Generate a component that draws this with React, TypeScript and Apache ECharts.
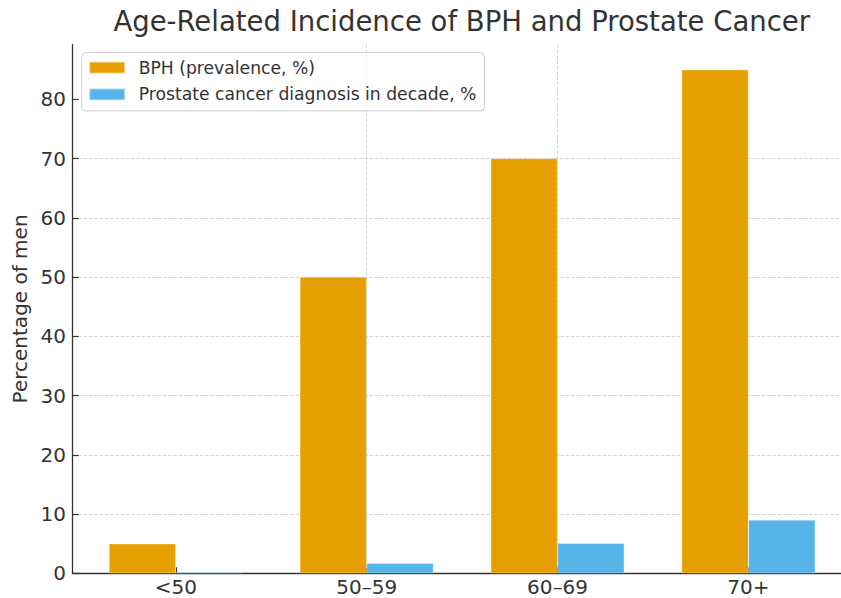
import React, { useEffect, useRef } from "react";
import * as echarts from "echarts";

const categories = ["<50", "50–59", "60–69", "70+"];
const bphValues = [5, 50, 70, 85];
const cancerValues = [0.2, 1.7, 5.1, 9];
const yTicks = [0, 10, 20, 30, 40, 50, 60, 70, 80];
const seriesNames = ["BPH (prevalence, %)", "Prostate cancer diagnosis in decade, %"];

const FONT = "DejaVu Sans";
const TEXT = "#333333";

export default function App() {
  const ref = useRef<HTMLDivElement>(null);
  useEffect(() => {
    if (!ref.current) return;
    const chart = echarts.init(ref.current, undefined, { renderer: "svg" });
    const xIdx = categories.map((_, i) => i);
    chart.setOption({
      animation: false,
      backgroundColor: "#ffffff",
      textStyle: { fontFamily: FONT },
      title: {
        text: "Age-Related Incidence of BPH and Prostate Cancer",
        left: 461.7,
        top: 7,
        padding: 0,
        textAlign: "center",
        textStyle: { fontFamily: FONT, fontSize: 27.5, fontWeight: "normal", color: TEXT },
      },
      legend: {
        orient: "vertical",
        left: 81.7,
        top: 52.7,
        padding: [6.5, 8, 8, 6.6],
        itemGap: 9.7,
        itemWidth: 35.7,
        itemHeight: 11.7,
        icon: "rect",
        backgroundColor: "rgba(255,255,255,0.8)",
        borderColor: "#cccccc",
        borderWidth: 1,
        borderRadius: 4,
        textStyle: { fontFamily: FONT, fontSize: 17.2, color: TEXT, padding: [0, 0, 0, 8.7], lineHeight: 17 },
        data: seriesNames,
      },
      grid: { left: 72.7, right: 0.5, top: 44.5, bottom: 598 - 573.3, containLabel: false },
      xAxis: {
        type: "value",
        min: -0.54,
        max: 3.54,
        axisLine: { show: true, onZero: false, lineStyle: { color: TEXT, width: 1.3 } },
        axisTick: { show: true, inside: true, length: 6, customValues: xIdx, lineStyle: { color: TEXT, width: 1.2 } },
        axisLabel: {
          customValues: xIdx,
          margin: 4,
          fontFamily: FONT,
          fontSize: 20,
          color: TEXT,
          formatter: (v: number) => categories[Math.round(v)] ?? "",
        },
        splitLine: {
          show: true,
          showMinLine: false,
          showMaxLine: false,
          lineStyle: { color: "#cccccc", width: 0.8, type: [3.7, 1.6] },
        },
      },
      yAxis: {
        type: "value",
        min: 0,
        max: 89.25,
        interval: 10,
        name: "Percentage of men",
        nameLocation: "middle",
        nameGap: 38,
        nameRotate: 90,
        nameTextStyle: { fontFamily: FONT, fontSize: 20, color: TEXT },
        axisLine: { show: true, onZero: false, lineStyle: { color: TEXT, width: 1.3 } },
        axisTick: { show: true, inside: true, length: 6, customValues: yTicks, lineStyle: { color: TEXT, width: 1.2 } },
        axisLabel: {
          customValues: yTicks,
          margin: 6.7,
          fontFamily: FONT,
          fontSize: 20,
          color: TEXT,
        },
        splitLine: {
          show: true,
          showMaxLine: false,
          lineStyle: { color: "#cccccc", width: 0.8, type: [3.7, 1.6] },
        },
      },
      series: [
        {
          name: seriesNames[0],
          type: "bar",
          barWidth: "35%",
          barGap: "0%",
          data: bphValues.map((v, i) => [xIdx[i], v]),
          itemStyle: { color: "#E69F00", borderColor: "rgba(255,255,255,0.5)", borderWidth: 0.6 },
        },
        {
          name: seriesNames[1],
          type: "bar",
          barWidth: "35%",
          barGap: "0%",
          data: cancerValues.map((v, i) => [xIdx[i], v]),
          itemStyle: { color: "#56B4E9", borderColor: "rgba(255,255,255,0.5)", borderWidth: 0.6 },
        },
      ],
    });
    return () => chart.dispose();
  }, []);
  return (
    <div
      ref={ref}
      style={{ position: "fixed", left: 0, top: 0, width: 852, height: 598, background: "#fff" }}
    />
  );
}
